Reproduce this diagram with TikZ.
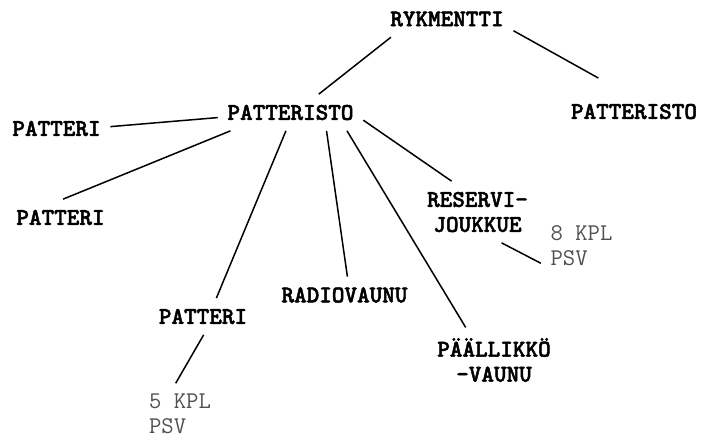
\documentclass[tikz,border=0pt]{standalone}
\usepackage{fontspec}
\newfontfamily\unitfont{lmmonolt10-bold.otf}[FakeBold=2]
\definecolor{notegray}{HTML}{505050}
\tikzset{
  every picture/.style={
    line width=1.5pt
  },
  unit/.style={font=\fontsize{24}{25}\selectfont\unitfont, align=center,
    inner xsep=9pt, inner ysep=10pt},
  note/.style={font=\fontsize{24}{25}\selectfont\ttfamily, text=notegray, align=left,
    inner xsep=9pt, inner ysep=10pt}
}

\begin{document}
\begin{tikzpicture}[x=1pt, y=-1pt]
  \useasboundingbox (0,0) rectangle (704,440);

  \node[unit] (ryk)  at (447,19)      {RYKMENTTI};
  \node[unit] (pto)  at (290.5,112.5) {PATTERISTO};
  \node[unit] (ptor) at (634,111.5)   {PATTERISTO};
  \node[unit] (p1)   at (56.5,128.5)  {PATTERI};
  \node[unit] (p2)   at (60.5,217.5)  {PATTERI};
  \node[unit] (p3)   at (203,316.5)   {PATTERI};
  \node[unit] (rad)  at (344.5,295)   {RADIOVAUNU};
  \node[unit] (res)  at (477.5,212)   {RESERVI-\\JOUKKUE};
  \node[unit] (paal) at (494,360)     {PÄÄLLIKKÖ\\-VAUNU};
  \node[note] (n5)   at (180,414)     {5 KPL\\PSV};
  \node[note] (n8)   at (581.5,246)   {8 KPL\\PSV};

  \draw (ryk.198) -- (pto.33);
  \draw [shorten >=31pt] (ryk.350) -- (ptor.115);
  \draw (pto.184) -- (p1.2);
  \draw (pto.197) -- (p2.82);
  \draw (pto.256) -- (p3.54);
  \draw (pto.333) -- (rad.81);
  \draw (pto.342) -- (paal.131);
  \draw (pto.354) -- (res.130);
  \draw (p3.272) -- (n5.98);
  \draw (res.308) -- (n8.203);
\end{tikzpicture}
\end{document}
